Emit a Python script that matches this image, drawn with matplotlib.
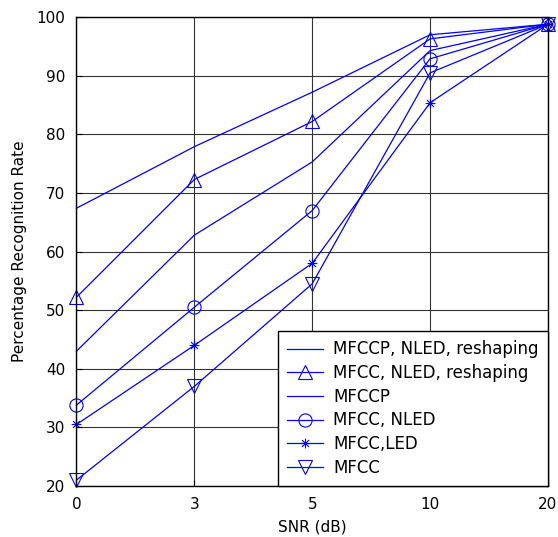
import matplotlib
matplotlib.use("Agg")
import matplotlib.pyplot as plt
from matplotlib.path import Path

plt.rcParams['font.family'] = ['DejaVu Sans']

snr_labels = ['0', '3', '5', '10', '20']
mfccp_nled_reshaping = [67.4, 77.9, 87.2, 97.0, 98.8]
mfcc_nled_reshaping = [52.2, 72.3, 82.2, 96.3, 98.8]
mfccp = [43.0, 62.8, 75.3, 94.3, 98.8]
mfcc_nled = [33.8, 50.5, 67.0, 92.9, 98.8]
mfcc_led = [30.5, 44.0, 58.0, 85.4, 98.8]
mfcc = [21.0, 37.0, 54.5, 90.5, 98.8]

# thin 8-armed asterisk like MATLAB's '*'
d = 0.7071
star = Path([(-1, 0), (1, 0), (0, -1), (0, 1), (-d, -d), (d, d), (-d, d), (d, -d)],
            [Path.MOVETO, Path.LINETO] * 4)

series = [
    (mfccp_nled_reshaping, 'MFCCP, NLED, reshaping', 'None'),
    (mfcc_nled_reshaping, 'MFCC, NLED, reshaping', '^'),
    (mfccp, 'MFCCP', 'None'),
    (mfcc_nled, 'MFCC, NLED', 'o'),
    (mfcc_led, 'MFCC,LED', star),
    (mfcc, 'MFCC', 'v'),
]

fig, ax = plt.subplots(figsize=(5.58, 5.37), dpi=100)
fig.subplots_adjust(left=0.137, right=0.982, top=0.968, bottom=0.095)

x = list(range(len(snr_labels)))
for vals, label, m in series:
    ms = 7 if m is star else 9.5
    ax.plot(x, vals, color='blue', lw=0.9, marker=m, markersize=ms,
            markerfacecolor='none', markeredgecolor='blue', markeredgewidth=0.8,
            label=label, clip_on=False)

ax.set_xlim(0, 4)
ax.set_ylim(20, 100)
ax.set_xticks(x)
ax.set_xticklabels(snr_labels)
ax.set_yticks(range(20, 101, 10))
ax.tick_params(direction='in', labelsize=11, length=4, pad=8)
ax.grid(True, color='#333333', lw=0.8)
for s in ax.spines.values():
    s.set_linewidth(1.0)
    s.set_color('black')

ax.set_xlabel('SNR (dB)', fontsize=11, labelpad=5)
ax.set_ylabel('Percentage Recognition Rate', fontsize=11, labelpad=7)

leg = ax.legend(loc='lower right', borderaxespad=0, fancybox=False, framealpha=1,
                edgecolor='black', fontsize=12, handlelength=2.15, handletextpad=0.6,
                labelspacing=0.34, borderpad=0.55)
leg.get_frame().set_linewidth(1.0)

fig.savefig('out.png', dpi=100)
